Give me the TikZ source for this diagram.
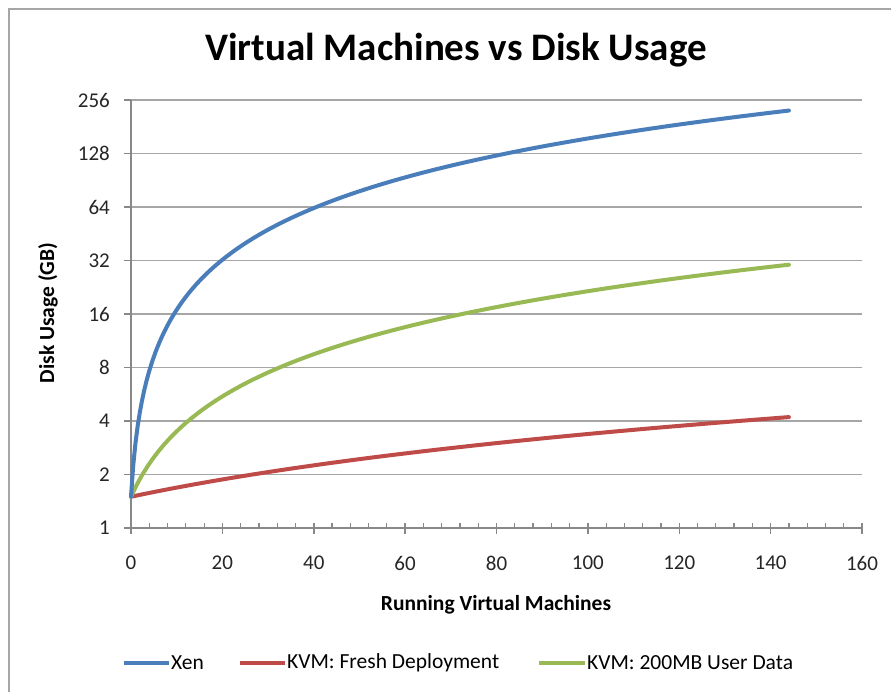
\documentclass[tikz,border=0pt]{standalone}
\usepackage{fontspec}
\setmainfont{Carlito}
\definecolor{xen}{HTML}{4A7EBB}
\definecolor{kvmf}{HTML}{BE4B48}
\definecolor{kvmu}{HTML}{98B954}
\definecolor{grid}{HTML}{A6A6A6}
\definecolor{axis}{HTML}{888888}
\begin{document}
\begin{tikzpicture}[x=1pt,y=-1pt,
  gridline/.style={draw=grid,line width=1.5pt},
  axisline/.style={draw=axis,line width=1.5pt},
  series/.style={line width=4pt,line cap=round,line join=round},
  ticklab/.style={font=\fontsize{21}{21}\selectfont,text=black!85,inner sep=0pt},
  axtitle/.style={font=\fontsize{21.5}{21.5}\selectfont\bfseries,inner sep=0pt},
  legtext/.style={font=\fontsize{21.5}{21.5}\selectfont,anchor=west,inner sep=0pt}]
\useasboundingbox (0,0) rectangle (891,692);
\fill[white] (0,0) rectangle (891,692);
% chart frame
\draw[draw=gray!70,line width=2pt] (9,700) -- (9,9) -- (900,9);
% title
\node[font=\fontsize{39}{39}\selectfont\bfseries,inner sep=0pt] (title) at (456,50) {Virtual Machines vs Disk Usage};
% horizontal gridlines and y labels
\foreach \i/\lab in {0/1,1/2,2/4,3/8,4/16,5/32,6/64,7/128,8/256}{
  \pgfmathsetmacro{\yy}{528-53.5*\i}
  \ifnum\i>0 \draw[gridline] (131,\yy) -- (862,\yy);\fi
  \draw[axisline] (124,\yy) -- (131,\yy);
  \node[ticklab,anchor=east] (yl\i) at (110,\yy) {\lab};
}
% axes
\draw[axisline] (131,100) -- (131,534);
\draw[axisline] (131,528) -- (862,528);
% x ticks
\foreach \v in {0,4,...,160}{
  \pgfmathsetmacro{\xx}{131+4.56875*\v}
  \draw[axisline,line width=1.2pt] (\xx,528) -- (\xx,523);
}
\foreach \v in {0,20,...,160}{
  \pgfmathsetmacro{\xx}{131+4.56875*\v}
  \draw[axisline] (\xx,523) -- (\xx,534);
  \node[ticklab] (xl\v) at (\xx,563) {\v};
}
\node[axtitle] (xtitle) at (496,605) {Running Virtual Machines};
\node[axtitle,rotate=90] (ytitle) at (48,313) {Disk Usage (GB)};
% series
\draw[series,kvmf] plot[domain=0:144,samples=60] ({131+4.56875*\x},{528-77.184*ln(1.5+0.0188*\x)});
\draw[series,kvmu] plot[domain=0:144,samples=120] ({131+4.56875*\x},{528-77.184*ln(1.5+0.2*\x)});
\draw[series,xen] plot[domain=0:144,samples=300] ({131+4.56875*\x},{528-77.184*ln(1.5+1.54*\x)});
% legend
\coordinate (l1a) at (124,663); \coordinate (l1b) at (169,663);
\coordinate (l2a) at (240,663); \coordinate (l2b) at (285,663);
\coordinate (l3a) at (539,663); \coordinate (l3b) at (585,663);
\draw[xen,line width=4pt] (l1a) -- (l1b);
\draw[kvmf,line width=4pt] (l2a) -- (l2b);
\draw[kvmu,line width=4pt] (l3a) -- (l3b);
\node[legtext] (lt1) at (171,663) {Xen};
\node[legtext] (lt2) at (287,663) {KVM: Fresh Deployment};
\node[legtext] (lt3) at (587,663) {KVM: 200MB User Data};
\end{tikzpicture}
\end{document}
